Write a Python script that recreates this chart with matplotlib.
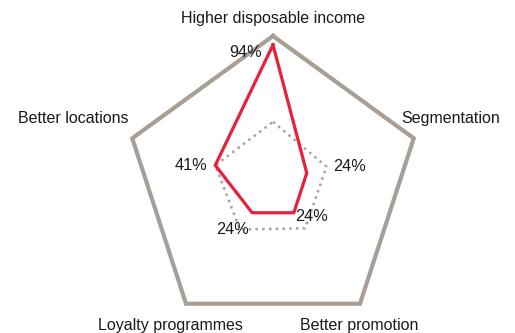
import numpy as np
import matplotlib
matplotlib.use("Agg")
import matplotlib.pyplot as plt

plt.rcParams['font.family'] = ['Liberation Sans', 'DejaVu Sans']

# Radar categories, clockwise from the top
categories = ["Higher disposable income", "Segmentation", "Better promotion",
              "Loyalty programmes", "Better locations"]
share = [94, 24, 24, 24, 41]          # main series (%)
benchmark = [42, 38, 37, 38, 41]      # dotted reference series (%)
outer = [100, 100, 100, 100, 100]     # frame of the chart
value_labels = ["94%", "24%", "24%", "24%", "41%"]

FRAME = "#a79e95"
RED = "#e8203c"
DOT = "#a8a19b"
INK = "#1a1a1a"

W, H, DPI = 515, 333, 100
fig = plt.figure(figsize=(W / DPI, H / DPI), dpi=DPI)

cx, cy, R = 273, 184, 148
ax = fig.add_axes([(cx - R) / W, (H - cy - R) / H, 2 * R / W, 2 * R / H],
                  projection="polar")
ax.set_theta_offset(np.pi / 2)
ax.set_theta_direction(-1)
ax.set_ylim(0, 100)
ax.set_axis_off()

n = len(categories)
theta = np.arange(n) * 2 * np.pi / n


def closed(vals):
    return np.append(theta, theta[0]), np.append(vals, vals[0])


t, r = closed(outer)
ax.plot(t, r, color=FRAME, lw=3.0, solid_joinstyle="miter", clip_on=False)
t, r = closed(benchmark)
ax.plot(t, r, color=DOT, lw=1.8, linestyle=(0, (1, 1.7)), clip_on=False)
t, r = closed(share)
ax.plot(t, r, color=RED, lw=2.3, solid_joinstyle="miter", clip_on=False)

# Category labels, offset in pixels from each outer vertex
cat_offsets = [(0, 17, "center"), (-12, 20, "left"), (-1, -22, "center"),
               (-16, -22, "center"), (-4, 20, "right")]
for th, name, (dx, dy, ha) in zip(theta, categories, cat_offsets):
    ax.annotate(name, xy=(th, 100), xytext=(dx, dy), textcoords="offset pixels",
                ha=ha, va="center", fontsize=11.5, color=INK,
                annotation_clip=False)

# Value labels, offset in pixels from each red vertex
val_offsets = [(-11, -8, "right"), (26, 7, "left"), (1, -4, "left"),
               (-3, -17, "right"), (-8, 0, "right")]
for th, v, lab, (dx, dy, ha) in zip(theta, share, value_labels, val_offsets):
    ax.annotate(lab, xy=(th, v), xytext=(dx, dy), textcoords="offset pixels",
                ha=ha, va="center", fontsize=11.7, color=INK,
                annotation_clip=False)

fig.savefig("out.png", dpi=DPI)
